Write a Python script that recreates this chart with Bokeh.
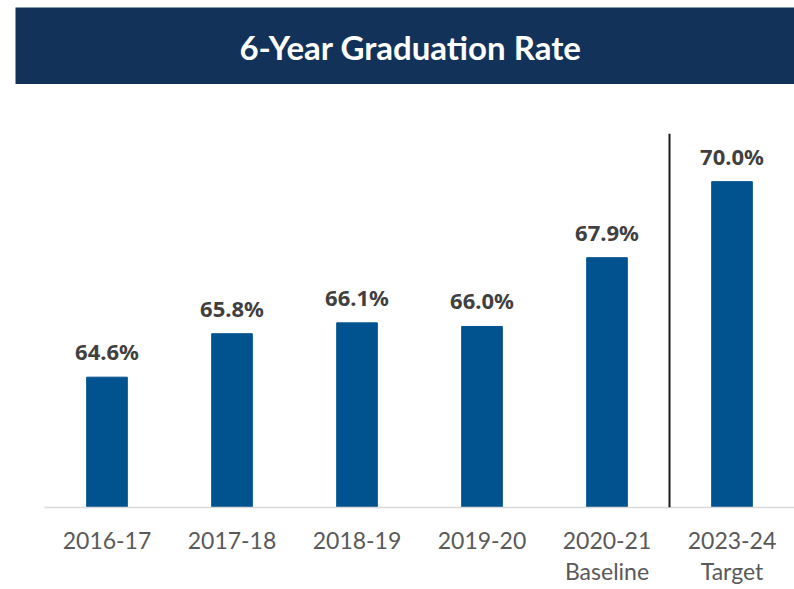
from bokeh.plotting import figure
from bokeh.models import ColumnDataSource, LabelSet, Span, Label, Range1d, FactorRange
from bokeh.core.properties import value
from bokeh.layouts import column
from bokeh.embed import file_html
from bokeh.resources import INLINE

title_text = "6-Year Graduation Rate"
categories = ["2016-17", "2017-18", "2018-19", "2019-20", "2020-21\nBaseline", "2023-24\nTarget"]
rates = [64.6, 65.8, 66.1, 66.0, 67.9, 70.0]
rate_labels = ["64.6%", "65.8%", "66.1%", "66.0%", "67.9%", "70.0%"]

NAVY = "#13325A"
BLUE = "#00538F"

# Banner
banner = figure(width=794, height=84, output_backend="svg", toolbar_location=None,
                x_range=Range1d(0, 779), y_range=Range1d(0, 77),
                min_border_left=15, min_border_right=0, min_border_top=7, min_border_bottom=0)
banner.frame_align = False
banner.background_fill_color = NAVY
banner.border_fill_color = "white"
banner.outline_line_color = None
banner.xaxis.visible = False
banner.yaxis.visible = False
banner.grid.visible = False
banner.add_layout(Label(x=395, y=38, text=title_text, text_color="white",
                        text_font="Lato", text_font_style="bold", text_font_size="33px",
                        text_align="center", text_baseline="alphabetic"))

# Main chart
src = ColumnDataSource(dict(cat=categories, rate=rates, lab=rate_labels))
p = figure(width=794, height=505, output_backend="svg", toolbar_location=None,
           x_range=FactorRange(*categories, range_padding=0),
           y_range=Range1d(61.0, 71.33),
           min_border_left=44, min_border_right=0, min_border_top=49, min_border_bottom=82)
p.frame_align = False
p.vbar(x="cat", top="rate", bottom=61.0, width=0.325, source=src, color=BLUE)
p.add_layout(LabelSet(x="cat", y="rate", text="lab", source=src, y_offset=17,
                      text_align="center", text_baseline="alphabetic",
                      text_font=value("Noto Sans"), text_font_style="bold",
                      text_font_size="22px", text_color="#404040"))
p.add_layout(Span(location=len(categories) - 1, dimension="height",
                  line_color="#1a1a1a", line_width=2))

p.outline_line_color = None
p.grid.visible = False
p.yaxis.visible = False
p.background_fill_color = "white"
ax = p.xaxis[0]
ax.axis_line_color = "#D9D9D9"
ax.axis_line_width = 1.5
ax.major_tick_line_color = None
ax.minor_tick_line_color = None
ax.major_label_text_font = "Lato"
ax.major_label_text_font_size = "23px"
ax.major_label_text_color = "#595959"
ax.major_label_text_line_height = 1.13
ax.major_label_standoff = 12

layout = column(banner, p, spacing=0)
open("out.html", "w").write(file_html(layout, INLINE))
